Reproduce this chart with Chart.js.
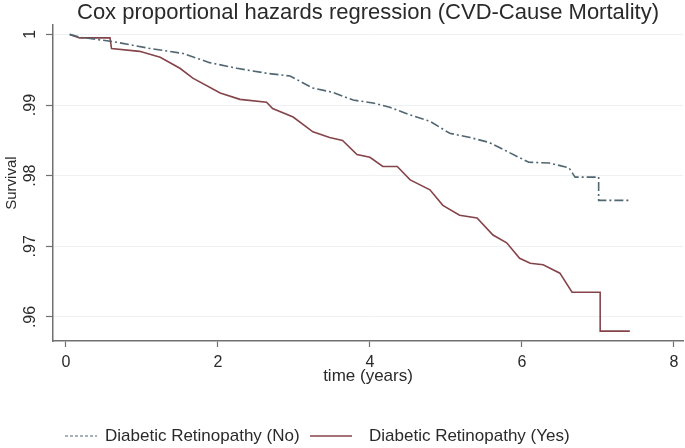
<!DOCTYPE html>
<html>
<head>
<meta charset="utf-8">
<script src="https://cdn.jsdelivr.net/npm/chart.js@4"></script>
<style>
  html, body { margin: 0; padding: 0; background: #ffffff; }
  #wrap { width: 685px; height: 448px; }
</style>
</head>
<body>
<div id="wrap"><canvas id="coxChart" width="685" height="448"></canvas></div>
<script>
// values
const timeNo = [0.05, 0.18, 0.61, 1.11, 1.54, 1.89, 2.25, 2.64, 2.95, 3.25, 3.51, 3.78, 4.04, 4.26, 4.53, 4.79, 5.05, 5.32, 5.57, 5.83, 6.09, 6.36, 6.62, 6.70, 7.01, 7.01, 7.42];
const survNo = [1.0, 0.9996, 0.9990, 0.9980, 0.9973, 0.9960, 0.9952, 0.9945, 0.9941, 0.9924, 0.9918, 0.9907, 0.9903, 0.9897, 0.9886, 0.9877, 0.9860, 0.9854, 0.9847, 0.9833, 0.9819, 0.9818, 0.9811, 0.9798, 0.9798, 0.9765, 0.9765];

const timeYes = [0.05, 0.18, 0.58, 0.60, 0.97, 1.24, 1.50, 1.67, 2.03, 2.29, 2.64, 2.72, 2.99, 3.25, 3.47, 3.64, 3.83, 4.00, 4.17, 4.36, 4.53, 4.79, 4.96, 5.18, 5.41, 5.62, 5.80, 5.97, 6.11, 6.28, 6.50, 6.66, 7.03, 7.03, 7.42];
const survYes = [1.0, 0.9995, 0.9995, 0.9980, 0.9976, 0.99675, 0.9952, 0.9938, 0.9917, 0.9908, 0.9904, 0.9895, 0.9883, 0.9862, 0.9854, 0.9850, 0.9830, 0.9826, 0.9813, 0.9813, 0.9794, 0.9780, 0.9758, 0.9744, 0.9740, 0.9716, 0.9705, 0.9683, 0.9676, 0.9674, 0.9662, 0.9635, 0.9635, 0.9580, 0.9580];

const xTicks = [0, 2, 4, 6, 8];
const yTicks = [0.96, 0.97, 0.98, 0.99, 1];
const yTickLabels = ['.96', '.97', '.98', '.99', '1'];
const seriesLabels = ['Diabetic Retinopathy (No)', 'Diabetic Retinopathy (Yes)'];

const colorNo = '#506670';
const colorYes = '#84444a';
const axisColor = '#707070';
const textColor = '#2a2a2a';
const fontFamily = '"Liberation Sans", Arial, sans-serif';

function toPoints(xs, ys) {
  return xs.map((x, i) => ({ x: x, y: ys[i] }));
}

// rotated y tick labels, like the original
const yLabelPlugin = {
  id: 'yLabels',
  afterDraw(chart) {
    const ctx = chart.ctx;
    const scale = chart.scales.y;
    ctx.save();
    ctx.fillStyle = textColor;
    ctx.font = '16px ' + fontFamily;
    ctx.textAlign = 'center';
    ctx.textBaseline = 'middle';
    yTicks.forEach((v, i) => {
      const y = scale.getPixelForValue(v);
      ctx.save();
      ctx.translate(31, y);
      ctx.rotate(-Math.PI / 2);
      ctx.fillText(yTickLabels[i], 0, 0);
      ctx.restore();
    });
    ctx.restore();
  }
};

// legend row at the bottom
const legendPlugin = {
  id: 'bottomLegend',
  afterDraw(chart) {
    const ctx = chart.ctx;
    const y = 436;
    const items = [
      { x0: 65, x1: 97, tx: 105, dash: [3, 2], width: 1 },
      { x0: 310, x1: 352, tx: 369, dash: [], width: 1.5 }
    ];
    ctx.save();
    ctx.font = '17px ' + fontFamily;
    ctx.textBaseline = 'middle';
    chart.data.datasets.forEach((ds, i) => {
      const it = items[i];
      ctx.beginPath();
      ctx.setLineDash(it.dash);
      ctx.strokeStyle = ds.borderColor;
      ctx.lineWidth = it.width;
      ctx.moveTo(it.x0, y);
      ctx.lineTo(it.x1, y);
      ctx.stroke();
      ctx.setLineDash([]);
      ctx.fillStyle = textColor;
      ctx.fillText(ds.label, it.tx, y);
    });
    ctx.restore();
  }
};

const ctx = document.getElementById('coxChart');
new Chart(ctx, {
  type: 'line',
  data: {
    datasets: [{
      label: seriesLabels[0],
      data: toPoints(timeNo, survNo),
      borderColor: colorNo,
      borderWidth: 1.6,
      borderDash: [9, 3, 2, 3],
      pointRadius: 0,
      tension: 0,
      fill: false
    }, {
      label: seriesLabels[1],
      data: toPoints(timeYes, survYes),
      borderColor: colorYes,
      borderWidth: 1.6,
      pointRadius: 0,
      tension: 0,
      fill: false
    }]
  },
  options: {
    responsive: false,
    animation: false,
    devicePixelRatio: 1,
    layout: {
      padding: { left: 0, right: 2, top: 0, bottom: 47 }
    },
    scales: {
      x: {
        type: 'linear',
        min: -0.17,
        max: 8.12,
        afterBuildTicks: function(scale) {
          scale.ticks = xTicks.map(v => ({ value: v }));
        },
        afterFit: function(scale) {
          scale.height = 60;
        },
        border: { display: true, color: axisColor, width: 1.5 },
        grid: {
          drawOnChartArea: false,
          drawTicks: true,
          tickLength: 6,
          tickColor: axisColor,
          tickWidth: 1.2
        },
        ticks: {
          color: textColor,
          font: { family: fontFamily, size: 16 },
          padding: 6,
          maxRotation: 0,
          autoSkip: false
        },
        title: {
          display: true,
          text: 'time (years)',
          color: textColor,
          font: { family: fontFamily, size: 17 },
          padding: { top: 0, bottom: 14 }
        }
      },
      y: {
        type: 'linear',
        min: 0.9566,
        max: 1.0013,
        afterBuildTicks: function(scale) {
          scale.ticks = yTicks.map(v => ({ value: v }));
        },
        afterFit: function(scale) {
          scale.width = 53;
        },
        border: { display: true, color: axisColor, width: 1.5 },
        grid: {
          color: '#eef1f3',
          lineWidth: 1,
          drawTicks: true,
          tickLength: 7,
          tickColor: axisColor,
          tickWidth: 1.2
        },
        ticks: {
          display: false
        },
        title: {
          display: true,
          text: 'Survival',
          color: textColor,
          font: { family: fontFamily, size: 15 },
          padding: { top: 3, bottom: 0 }
        }
      }
    },
    plugins: {
      legend: { display: false },
      tooltip: { enabled: false },
      title: {
        display: true,
        fullSize: false,
        text: 'Cox proportional hazards regression (CVD-Cause Mortality)',
        color: textColor,
        font: { family: fontFamily, size: 22, weight: 'normal', lineHeight: 1.1 },
        padding: { top: 1, bottom: 0 }
      }
    }
  },
  plugins: [yLabelPlugin, legendPlugin]
});
</script>
</body>
</html>
